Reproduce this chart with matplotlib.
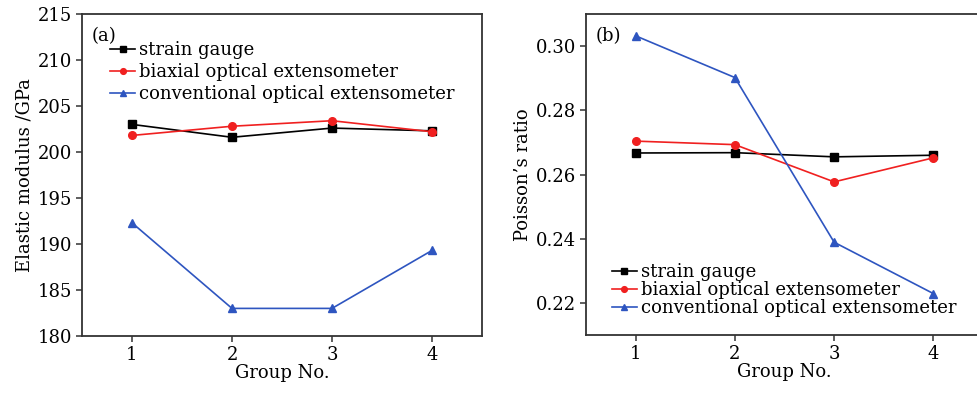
import numpy as np
import matplotlib
matplotlib.use("Agg")
import matplotlib.pyplot as plt

plt.rcParams['font.family'] = ['DejaVu Serif']
plt.rcParams['font.size'] = 13

groups = [1, 2, 3, 4]
labels = ["strain gauge", "biaxial optical extensometer", "conventional optical extensometer"]

# (a) elastic modulus, GPa
E_strain = [203.0, 201.6, 202.6, 202.3]
E_biaxial = [201.8, 202.8, 203.4, 202.2]
E_conv = [192.3, 183.0, 183.0, 189.3]

# (b) Poisson's ratio
nu_strain = [0.2667, 0.2668, 0.2655, 0.2660]
nu_biaxial = [0.2704, 0.2693, 0.2577, 0.2652]
nu_conv = [0.3032, 0.2902, 0.2389, 0.2229]

colors = ['black', '#f02020', '#2e55c0']
markers = ['s', 'o', '^']

fig = plt.figure(figsize=(9.77, 3.93), dpi=100)
ax1 = fig.add_axes([82/977, 57/393, 400/977, 322/393])
ax2 = fig.add_axes([586/977, 58/393, 397/977, 321/393])

def draw(ax, series):
    for s, c, m, lab in zip(series, colors, markers, labels):
        ax.plot(groups, s, color=c, marker=m, markersize=5.5, linewidth=1.2, label=lab)
    ax.set_xlim(0.5, 4.5)
    ax.set_xticks(groups)
    ax.set_xlabel("Group No.", labelpad=0)
    for sp in ax.spines.values():
        sp.set_linewidth(1.3)
        sp.set_color('#333333')
    ax.tick_params(direction='out', length=4, width=1.1, color='#333333', pad=3)

draw(ax1, [E_strain, E_biaxial, E_conv])
ax1.set_ylim(180, 215)
ax1.set_yticks(np.arange(180, 216, 5))
ax1.set_ylabel("Elastic modulus /GPa", labelpad=3)
ax1.text(0.025, 0.93, "(a)", transform=ax1.transAxes, ha='left', va='center')
ax1.legend(loc='upper left', bbox_to_anchor=(0.07, 0.915), frameon=False,
           handlelength=1.4, handletextpad=0.2, labelspacing=0.22,
           borderpad=0, borderaxespad=0, markerscale=0.75)

draw(ax2, [nu_strain, nu_biaxial, nu_conv])
ax2.set_ylim(0.21, 0.31)
ax2.set_yticks([0.22, 0.24, 0.26, 0.28, 0.30])
ax2.set_yticklabels(["0.22", "0.24", "0.26", "0.28", "0.30"])
ax2.set_ylabel("Poisson\u2019s ratio", labelpad=3)
ax2.text(0.025, 0.93, "(b)", transform=ax2.transAxes, ha='left', va='center')
ax2.legend(loc='lower left', bbox_to_anchor=(0.065, 0.055), frameon=False,
           handlelength=1.4, handletextpad=0.2, labelspacing=0.0,
           borderpad=0, borderaxespad=0, markerscale=0.75)

fig.savefig("out.png", dpi=100)
